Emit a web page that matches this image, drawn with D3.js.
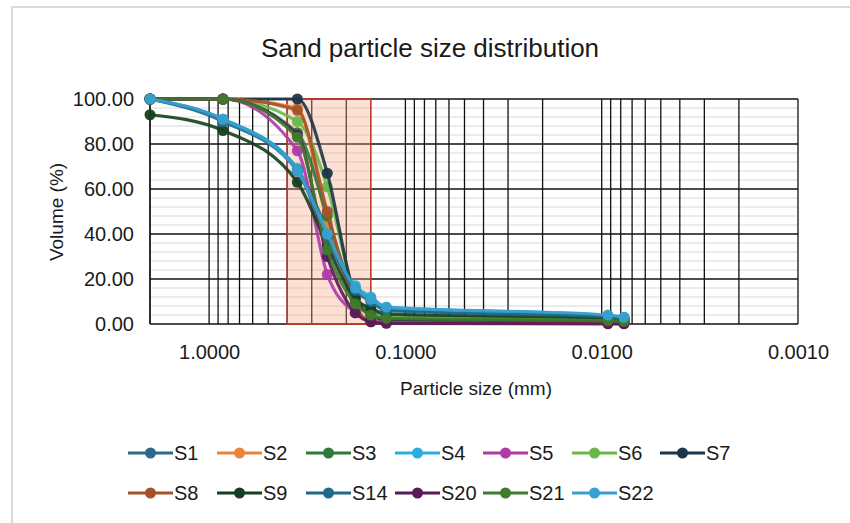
<!DOCTYPE html>
<html>
<head>
<meta charset="utf-8">
<script src="https://cdn.jsdelivr.net/npm/d3@7"></script>
<style>
  html, body { margin: 0; padding: 0; background: #fff; }
  svg { display: block; font-family: "Liberation Sans", Arial, sans-serif; }
</style>
</head>
<body>
<svg id="chart" width="850" height="523"></svg>
<script>
// ---- data ----
const sizes = [2, 0.85, 0.355, 0.25, 0.18, 0.15, 0.125, 0.0093, 0.0077];
const seriesNames = ["S1", "S2", "S3", "S4", "S5", "S6", "S7", "S8", "S9", "S14", "S20", "S21", "S22"];
const seriesColors = ["#2d6a8a", "#e8843c", "#2e7a3a", "#2aaee0", "#b03aa8", "#6ab84a", "#1c3547",
                      "#a5522a", "#153f1e", "#1e6a8a", "#5a1a5a", "#3f7a2e", "#38a0d0"];
const s1  = [100, 91, 69, 42, 16, 11, 6.5, 3.0, 2.5];
const s2  = [100, 100, 96, 45, 10, 4, 2, 1.2, 1.0];
const s3  = [100, 100, 85, 48, 12, 6, 3.5, 2.0, 1.5];
const s4  = [100, 91, 69, 40, 17, 12, 7.5, 3.8, 3.0];
const s5  = [100, 100, 77, 22, 5, 1.5, 1.0, 0.6, 0.5];
const s6  = [100, 100, 90, 61, 13, 5, 3, 1.8, 1.5];
const s7  = [100, 100, 100, 67, 12, 4, 2, 1.0, 0.8];
const s8  = [100, 100, 95, 50, 8, 1, 0.5, 0.3, 0.2];
const s9  = [93, 86, 63, 35, 11, 7, 4.5, 2.5, 2.0];
const s14 = [100, 90, 68, 38, 15, 10, 6, 3.2, 2.6];
const s20 = [100, 100, 84, 30, 5, 1, 0.3, 0.1, 0.1];
const s21 = [100, 100, 83, 33, 9, 4, 2.5, 1.5, 1.2];
const s22 = [100, 91, 68, 40, 16, 11, 7.5, 4.0, 3.0];
const seriesValues = [s1, s2, s3, s4, s5, s6, s7, s8, s9, s14, s20, s21, s22];
const xTickValues = [1, 0.1, 0.01, 0.001];
const yTickValues = [0, 20, 40, 60, 80, 100];
const highlightRange = [0.4, 0.15];
const titleText = "Sand particle size distribution";
const xTitle = "Particle size (mm)";
const yTitle = "Volume (%)";

// ---- layout ----
const svg = d3.select("#chart");
const L = 150, R = 798, T = 99, B = 324;
const x = d3.scaleLog().domain([2, 0.001]).range([L, R]);
const y = d3.scaleLinear().domain([0, 100]).range([B, T]);

// outer frame
svg.append("rect").attr("x", 12).attr("y", 7).attr("width", 860).attr("height", 540)
  .attr("fill", "#fff").attr("stroke", "#d9d9d9").attr("stroke-width", 2);

// title
svg.append("text").attr("x", 430).attr("y", 57).attr("text-anchor", "middle")
  .attr("font-size", 26).attr("fill", "#1a1a1a").text(titleText);

const plot = svg.append("g");

// horizontal minor grid
const yMinor = d3.range(0, 101, 4).filter(v => v % 20 !== 0);
plot.selectAll(".hmin").data(yMinor).join("line")
  .attr("x1", L).attr("x2", R).attr("y1", d => y(d)).attr("y2", d => y(d))
  .attr("stroke", "#d9d9d9").attr("stroke-width", 1);

// vertical grid (log minor + major)
const vGrid = [];
for (let e = -3; e <= 0; e++) {
  for (let k = 1; k <= 9; k++) {
    const v = +(k * Math.pow(10, e)).toPrecision(3);
    if (v <= 2) vGrid.push(v);
  }
}
vGrid.push(2);
plot.selectAll(".vg").data(vGrid).join("line")
  .attr("x1", d => x(d)).attr("x2", d => x(d)).attr("y1", T).attr("y2", B)
  .attr("stroke", "#111").attr("stroke-width", 1.3);

// horizontal major grid
plot.selectAll(".hmaj").data(yTickValues).join("line")
  .attr("x1", L).attr("x2", R).attr("y1", d => y(d)).attr("y2", d => y(d))
  .attr("stroke", "#111").attr("stroke-width", 1.3);

// highlight box
plot.append("rect")
  .attr("x", x(highlightRange[0])).attr("y", T)
  .attr("width", x(highlightRange[1]) - x(highlightRange[0])).attr("height", B - T)
  .attr("fill", "#f4a582").attr("fill-opacity", 0.35)
  .attr("stroke", "#c0392b").attr("stroke-width", 1.6);

// axes labels
const xAxis = d3.axisBottom(x).tickValues(xTickValues).tickSize(0).tickPadding(0)
  .tickFormat(d3.format(".4f"));
const gx = svg.append("g").attr("transform", `translate(0,${B + 21})`).call(xAxis);
gx.select(".domain").remove();
gx.selectAll("text").attr("font-size", 20).attr("fill", "#1a1a1a")
  .attr("font-family", "'Liberation Sans', Arial, sans-serif").attr("dy", "0.71em");

const yAxis = d3.axisLeft(y).tickValues(yTickValues).tickSize(0).tickPadding(0)
  .tickFormat(d3.format(".2f"));
const gy = svg.append("g").attr("transform", `translate(${L - 16},0)`).call(yAxis);
gy.select(".domain").remove();
gy.selectAll("text").attr("font-size", 20).attr("fill", "#1a1a1a")
  .attr("font-family", "'Liberation Sans', Arial, sans-serif");

// axis titles
svg.append("text").attr("x", 476).attr("y", 395).attr("text-anchor", "middle")
  .attr("font-size", 19).attr("fill", "#1a1a1a").text(xTitle);
svg.append("text").attr("transform", "translate(63,212) rotate(-90)")
  .attr("text-anchor", "middle").attr("font-size", 19).attr("fill", "#1a1a1a").text(yTitle);

// series
const line = d3.line().x(d => x(d[0])).y(d => y(d[1])).curve(d3.curveMonotoneX);
const seriesG = svg.append("g");
seriesValues.forEach((vals, i) => {
  const pts = sizes.map((s, j) => [s, vals[j]]);
  const g = seriesG.append("g");
  g.append("path").datum(pts).attr("d", line).attr("fill", "none")
    .attr("stroke", seriesColors[i]).attr("stroke-width", 3.2).attr("stroke-opacity", 0.9);
  g.selectAll("circle").data(pts).join("circle")
    .attr("cx", d => x(d[0])).attr("cy", d => y(d[1])).attr("r", 5.5)
    .attr("fill", seriesColors[i]).attr("fill-opacity", 0.95);
});

// legend
const legendStartX = [128, 217, 306, 395, 483, 572, 660];
const legendRowY = [453, 493];
const legend = svg.append("g");
seriesNames.forEach((name, i) => {
  const row = i < 7 ? 0 : 1;
  const col = i < 7 ? i : i - 7;
  const lx = legendStartX[col], ly = legendRowY[row];
  const g = legend.append("g");
  g.append("line").attr("x1", lx).attr("x2", lx + 45).attr("y1", ly).attr("y2", ly)
    .attr("stroke", seriesColors[i]).attr("stroke-width", 3);
  g.append("circle").attr("cx", lx + 22.5).attr("cy", ly).attr("r", 5.5).attr("fill", seriesColors[i]);
  g.append("text").attr("x", lx + 46).attr("y", ly).attr("dy", "0.35em")
    .attr("font-size", 20).attr("fill", "#1a1a1a").text(name);
});
</script>
</body>
</html>
